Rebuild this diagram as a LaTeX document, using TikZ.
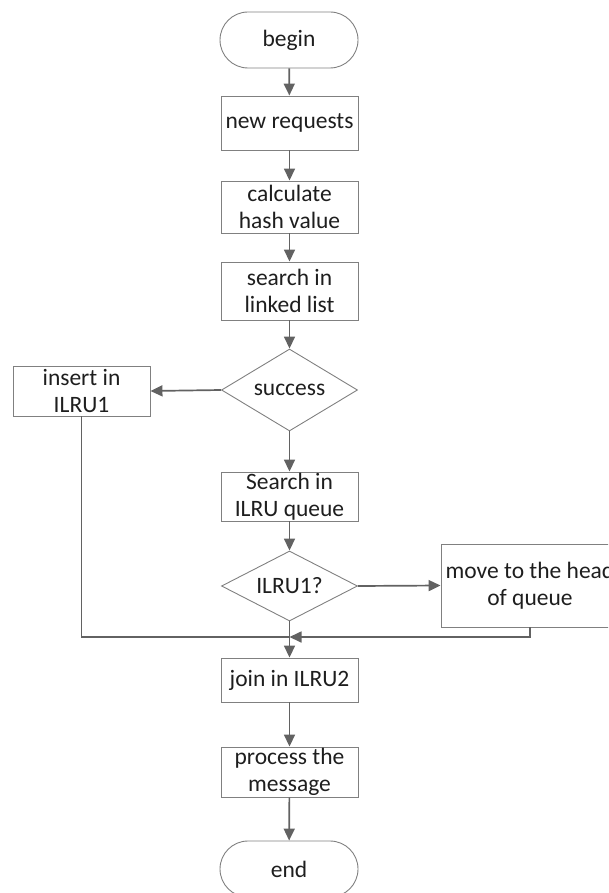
\documentclass[tikz,border=0pt]{standalone}
\usepackage{fontspec}
\setmainfont{Carlito}
\usetikzlibrary{shapes.geometric,arrows.meta}
\definecolor{boxgray}{HTML}{808080}
\definecolor{arrgray}{HTML}{626262}
\definecolor{txt}{HTML}{1E1E1E}
\tikzset{
  base/.style={draw=boxgray, line width=0.9pt, text=txt, align=center, inner sep=0pt,
    font=\fontsize{23.5}{27.5}\selectfont},
  stepbox/.style={base, rectangle, minimum width=137pt},
  term/.style={base, rectangle, rounded corners=28pt, minimum width=138pt, minimum height=56pt},
  decide/.style={base, diamond, aspect=1.6, minimum width=136pt},
  conn/.style={draw=arrgray, line width=1.7pt},
  arr/.style={conn, -{Triangle[length=12pt,width=11pt]}},
}
\begin{document}
\begin{tikzpicture}[x=1pt,y=-1pt]
\clip (0,0) rectangle (608,893);
\node[term] (begin) at (289,40) {begin};
\node[stepbox, minimum height=54pt] (req) at (289.5,123) {new requests};
\node[stepbox, minimum height=52pt] (hash) at (289.5,207) {calculate\\hash value};
\node[stepbox, minimum height=58pt] (list) at (289.5,291) {search in\\linked list};
\node[decide, minimum height=82pt] (succ) at (289.5,390) {success};
\node[stepbox, minimum height=50pt] (ins) at (81.5,391) {insert in\\ILRU1};
\node[stepbox, minimum height=49pt] (queue) at (289.5,496.5) {Search in\\ILRU queue};
\node[decide, minimum height=70pt] (ilru) at (289.5,586) {ILRU1?};
\node[stepbox, minimum width=178pt, minimum height=83pt] (move) at (530,585.5) {move to the head\\of queue};
\node[stepbox, minimum height=44pt] (join) at (289.5,680) {join in ILRU2};
\node[stepbox, minimum height=50pt] (proc) at (289.5,772) {process the\\message};
\node[term] (end) at (289,869) {end};
\coordinate (jn) at (289.5,637);

\draw[arr] (begin) -- (req);
\draw[arr] (req) -- (hash);
\draw[arr] (hash) -- (list);
\draw[arr] (list) -- (succ);
\draw[arr] (succ.west) -- (ins.east);
\draw[arr] (succ.south) -- (queue.north);
\draw[arr] (queue) -- (ilru.north);
\draw[arr] (ilru.east) -- (move.west);
\draw[conn] (ins.south) |- (jn);
\draw[arr] (move.south) |- (jn);
\draw[arr] (ilru.south) -- (join.north);
\draw[arr] (join) -- (proc);
\draw[arr] (proc) -- (end);
\end{tikzpicture}
\end{document}
